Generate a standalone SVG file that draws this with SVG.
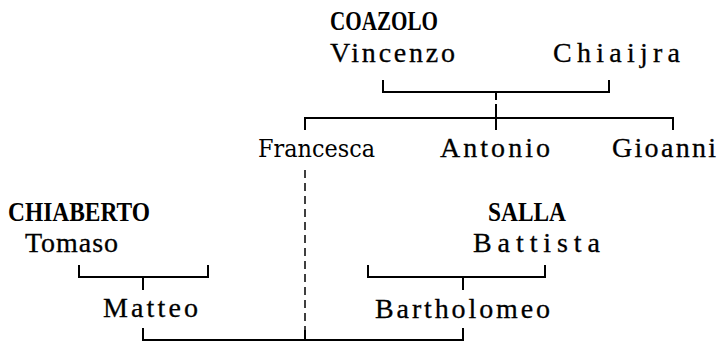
<svg xmlns="http://www.w3.org/2000/svg" width="723" height="344" viewBox="0 0 723 344">
<style>
text{font-family:"Liberation Serif","DejaVu Serif",serif;font-size:28px;fill:#000}
.s{font-weight:bold;font-size:27px}
.n{stroke:#000;stroke-width:0.3}
.f{font-family:"DejaVu Serif","Liberation Serif",serif;font-size:24px}
.l{fill:none;stroke:#000;stroke-width:2}
.d{fill:none;stroke:#000;stroke-width:1.5;stroke-dasharray:8,5}
</style>
<rect width="723" height="344" fill="#fff"/>
<g id="connectors">
<polyline class="l" points="383,80 383,92 609,92 609,80"/>
<line class="l" x1="496" y1="92" x2="496" y2="100"/>
<line class="l" x1="496" y1="104" x2="496" y2="130"/>
<polyline class="l" points="305,130 305,118 673,118 673,130"/>
<line class="d" x1="305" y1="170" x2="305" y2="340"/>
<polyline class="l" points="79,265 79,277 208,277 208,265"/>
<line class="l" x1="143" y1="277" x2="143" y2="290"/>
<polyline class="l" points="368,265 368,277 545,277 545,265"/>
<line class="l" x1="463" y1="277" x2="463" y2="290"/>
<polyline class="l" points="143,328 143,340 463,340 463,328"/>
<line class="l" x1="305" y1="330" x2="305" y2="340"/>
</g>
<g id="coazolo"><text class="s" x="330" y="30" textLength="108" lengthAdjust="spacingAndGlyphs">COAZOLO</text></g>
<g id="vincenzo"><text class="n" x="330" y="62" textLength="125" lengthAdjust="spacing">Vincenzo</text></g>
<g id="chiaijra"><text class="n" x="553" y="62" textLength="127" lengthAdjust="spacing">Chiaijra</text></g>
<g id="francesca"><text class="f" x="258" y="157" textLength="117" lengthAdjust="spacingAndGlyphs">Francesca</text></g>
<g id="antonio"><text class="n" x="440" y="157" textLength="110" lengthAdjust="spacing">Antonio</text></g>
<g id="gioanni"><text class="n" x="612" y="157" textLength="104" lengthAdjust="spacing">Gioanni</text></g>
<g id="chiaberto"><text class="s" x="8" y="221" textLength="142" lengthAdjust="spacingAndGlyphs">CHIABERTO</text></g>
<g id="tomaso"><text class="n" x="25" y="252" textLength="93" lengthAdjust="spacing">Tomaso</text></g>
<g id="salla"><text class="s" x="488" y="221" textLength="78" lengthAdjust="spacingAndGlyphs">SALLA</text></g>
<g id="battista"><text class="n" x="473" y="252" textLength="127" lengthAdjust="spacing">Battista</text></g>
<g id="matteo"><text class="n" x="103" y="317" textLength="95" lengthAdjust="spacing">Matteo</text></g>
<g id="bartholomeo"><text class="n" x="375" y="318" textLength="175" lengthAdjust="spacing">Bartholomeo</text></g>
</svg>
